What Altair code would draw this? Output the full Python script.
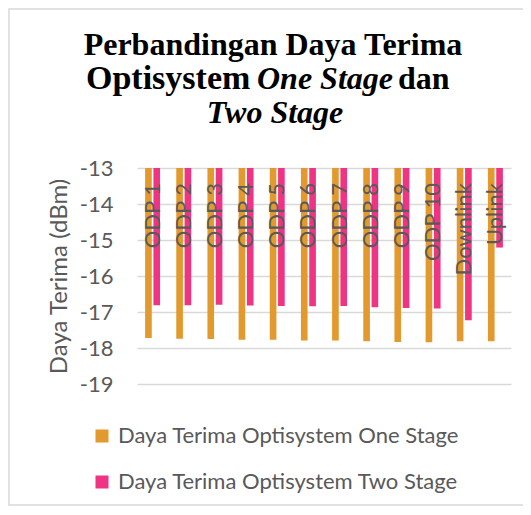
import altair as alt
import pandas as pd

categories = ["ODP 1", "ODP 2", "ODP 3", "ODP 4", "ODP 5", "ODP 6", "ODP 7",
              "ODP 8", "ODP 9", "ODP 10", "Downlink", "Uplink"]
one_stage = [-17.72, -17.74, -17.75, -17.77, -17.77, -17.79, -17.79,
             -17.81, -17.83, -17.84, -17.81, -17.81]
two_stage = [-16.81, -16.81, -16.80, -16.82, -16.83, -16.84, -16.83,
             -16.87, -16.89, -16.90, -17.23, -15.21]
series_names = ["Daya Terima Optisystem One Stage", "Daya Terima Optisystem Two Stage"]
series_colors = ["#E2992D", "#EE3482"]
y_ticks = [-19, -18, -17, -16, -15, -14, -13]
y_title = "Daya Terima (dBm)"

rows = []
for c, a, b in zip(categories, one_stage, two_stage):
    rows.append({"kategori": c, "seri": series_names[0], "nilai": a})
    rows.append({"kategori": c, "seri": series_names[1], "nilai": b})
df = pd.DataFrame(rows)
df_cat = pd.DataFrame({"kategori": categories})

W, H = 374, 216
FONT = "Lato"
GRAY = "#595959"
FS = 22

x_scale = alt.Scale(domain=categories, paddingInner=0.52, paddingOuter=0.26)
y_scale = alt.Scale(domain=[-19, -13], nice=False, zero=False)
y_axis = alt.Axis(values=y_ticks, title=y_title, grid=True, gridColor="#D9D9D9",
                  gridWidth=1.3, domain=False, ticks=False, tickSize=0,
                  labelOverlap=False, labelExpr="toString(datum.value)",
                  labelPadding=24, labelFont=FONT, labelFontSize=FS,
                  labelColor=GRAY, titleFont=FONT, titleFontSize=24,
                  titleFontWeight="normal", titleColor=GRAY, titlePadding=8)

bars = alt.Chart(df).mark_bar().encode(
    x=alt.X("kategori:N", sort=categories, scale=x_scale, axis=None),
    xOffset=alt.XOffset("seri:N", sort=series_names, scale=alt.Scale(paddingInner=0.2)),
    y=alt.Y("nilai:Q", scale=y_scale, axis=y_axis),
    y2=alt.datum(-13),
    color=alt.Color("seri:N", sort=series_names,
                    scale=alt.Scale(domain=series_names, range=series_colors),
                    legend=alt.Legend(title=None, orient="none", legendX=-46, legendY=257,
                                      direction="vertical", symbolType="square",
                                      symbolSize=169, symbolStrokeWidth=0,
                                      labelFont=FONT, labelFontSize=FS, labelColor=GRAY,
                                      labelOffset=5, rowPadding=24, padding=0,
                                      labelLimit=500)),
)

labels = alt.Chart(df_cat).mark_text(
    angle=270, align="right", baseline="middle", dx=-15,
    font=FONT, fontSize=FS, color=GRAY
).encode(
    x=alt.X("kategori:N", sort=categories, scale=x_scale, axis=None),
    y=alt.YDatum(-13, scale=y_scale, axis=y_axis),
    text="kategori:N",
)

# chart title drawn as text with mixed bold / bold-italic segments
title_parts = [
    ("Perbandingan Daya Terima", "normal", "center", 136, -113, 32),
    ("Optisystem", "normal", "left", -51, -79, 34),
    ("One Stage", "italic", "left", 120, -79, 32),
    ("dan", "normal", "left", 261, -79, 32),
    ("Two Stage", "italic", "center", 138, -45, 32),
]
title_layers = []
for txt, style, al, px, py, fs in title_parts:
    title_layers.append(
        alt.Chart(pd.DataFrame({"t": [txt]})).mark_text(
            font="Liberation Serif", fontSize=fs, fontWeight="bold", fontStyle=style,
            align=al, baseline="alphabetic", color="#000000"
        ).encode(text="t:N", x=alt.value(px), y=alt.value(py))
    )

frame = alt.Chart(pd.DataFrame({"f": [0]})).mark_rect(
    fill=None, stroke="#D9D9D9", strokeWidth=1.5
).encode(x=alt.value(-128), x2=alt.value(420), y=alt.value(-159), y2=alt.value(337))

chart = alt.layer(frame, bars, labels, *title_layers).properties(
    width=W, height=H,
    autosize=alt.AutoSizeParams(type="none"),
    padding={"left": 129, "top": 160, "right": 12, "bottom": 122},
).configure_view(stroke=None)

chart.save("out.html", embed_options={"renderer": "svg", "actions": False})
